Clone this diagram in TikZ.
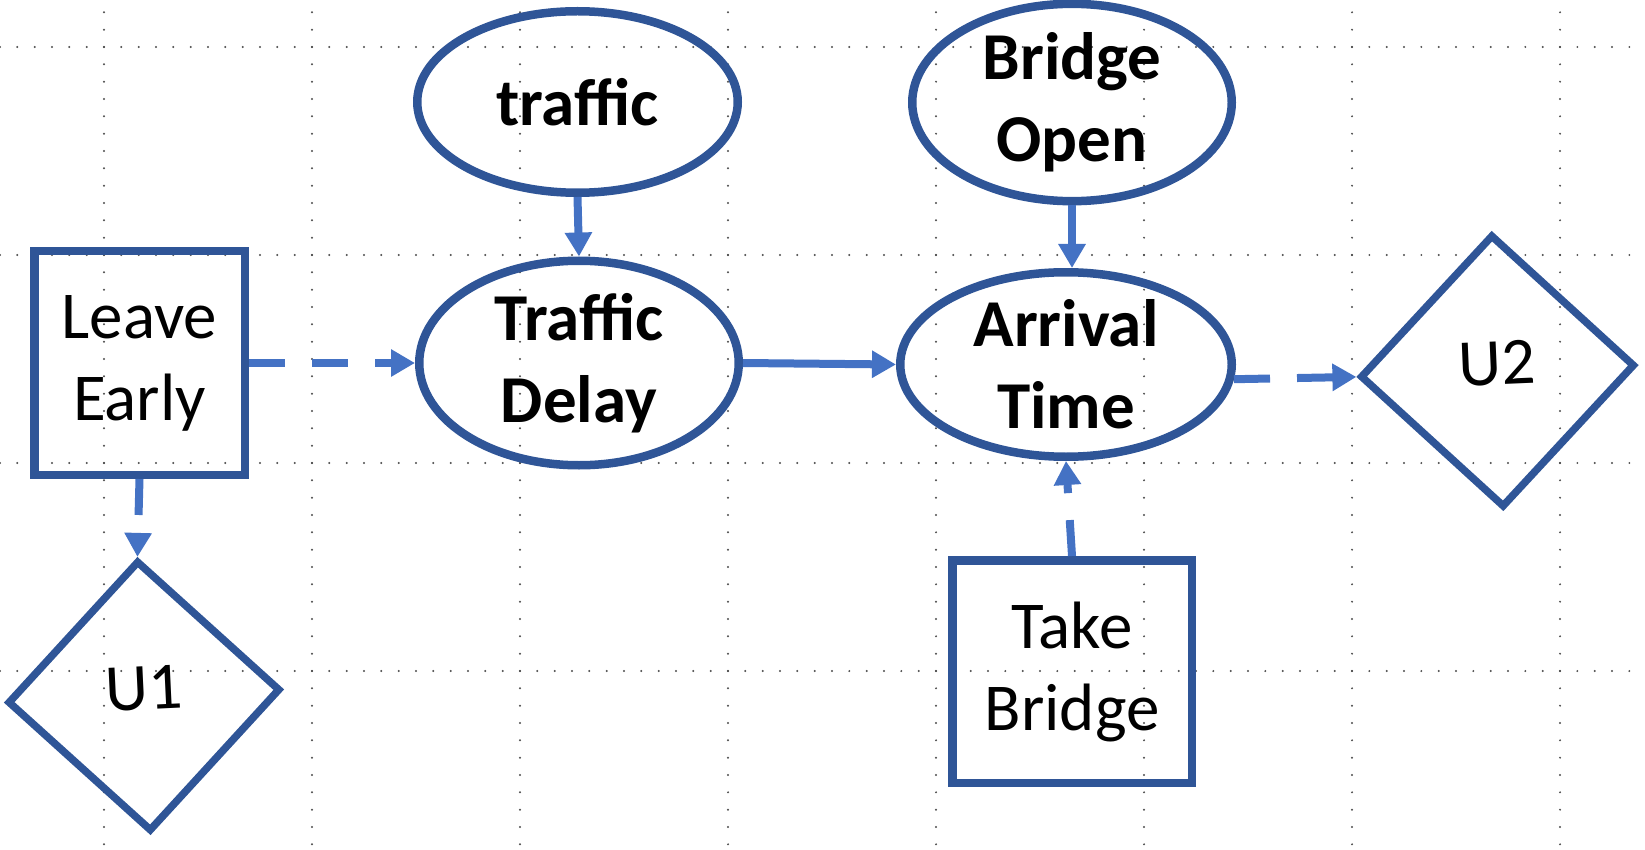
\documentclass[tikz,border=0pt]{standalone}
\usepackage{fontspec}
\setmainfont{Carlito}
\usetikzlibrary{shapes.geometric,arrows.meta}
\definecolor{outl}{HTML}{2F5597}
\definecolor{arrc}{HTML}{4472C4}
\begin{document}
\begin{tikzpicture}[x=1pt,y=-1pt,
  ol/.style={draw=outl, line width=8.5pt, inner sep=0pt, align=center},
  boxnode/.style={ol, rectangle, font=\fontsize{67}{82}\selectfont},
  ellnode/.style={ol, ellipse, font=\fontsize{67}{82}\selectfont\bfseries},
  dianode/.style={draw=outl, line width=7.5pt, diamond, inner sep=0pt, aspect=1, font=\fontsize{67}{82}\selectfont, text depth=16pt},
  arr/.style={draw=arrc, line width=8pt, -{Triangle[length=24pt,width=26pt]}},
  dsh/.style={arr, dash pattern=on 36pt off 27pt},
  griddots/.style={draw=black!70, line width=2.2pt, line cap=round, dash pattern=on 0pt off 17.3333pt}
]
\useasboundingbox (0,0) rectangle (1645,850);
% grid
\foreach \gx in {104,312,520,728,936,1144,1352,1560}
  \draw[griddots] (\gx,-5) -- (\gx,860);
\foreach \gy in {47,255,463,671}
  \draw[griddots] (0,\gy) -- (1660,\gy);
% nodes
\node[boxnode, minimum width=210.5pt, minimum height=223.5pt] (le) at (139.5,363) {Leave\\Early};
\node[boxnode, minimum width=239.5pt, minimum height=222.5pt] (tb) at (1072,671.5) {Take\\Bridge};
\node[ellnode, minimum width=320.5pt, minimum height=181.5pt] (tr) at (577.5,102) {traffic};
\node[ellnode, minimum width=319.5pt, minimum height=204.5pt] (td) at (579,363) {Traffic\\Delay};
\node[ellnode, minimum width=319.5pt, minimum height=184.5pt] (bo) at (1072,102.5) {Bridge\\Open};
\node[ellnode, minimum width=331.5pt, minimum height=184.5pt] (at) at (1066,364.5) {Arrival\\Time};
\node[dianode, minimum width=273pt, minimum height=271pt, rotate=2.7] (u1) at (144,696) {U1};
\node[dianode, minimum width=275pt, minimum height=273pt, rotate=2.4] (u2) at (1497.5,371) {U2};
% connectors
\draw[arr] (tr.south) -- (td.north);
\draw[arr] (bo.south) -- (bo.south |- at.north);
\draw[arr] (td.east) -- (at.west);
\draw[dsh] (le.east) -- (td.west);
\draw[dsh] (le.south) -- (u1.north);
\draw[dsh] (at.-5) -- (u2.west);
\draw[dsh] (tb.north) -- (at.south);
\end{tikzpicture}
\end{document}
